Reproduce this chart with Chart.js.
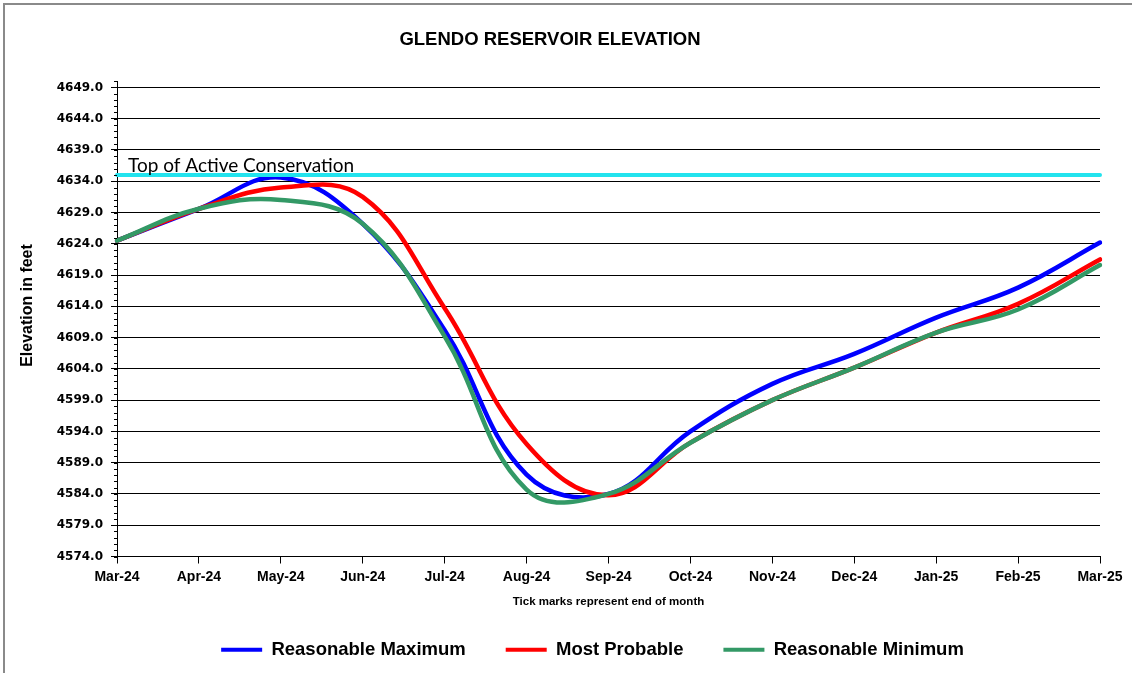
<!DOCTYPE html>
<html>
<head>
<meta charset="utf-8">
<script src="https://cdn.jsdelivr.net/npm/chart.js@4"></script>
<style>
  body { margin: 0; background: #fff; }
  #wrap { width: 1132px; height: 673px; }
</style>
</head>
<body>
<div id="wrap"><canvas id="chart" width="1132" height="673"></canvas></div>
<script>
// months (tick marks = end of month)
const months = ['Mar-24', 'Apr-24', 'May-24', 'Jun-24', 'Jul-24', 'Aug-24', 'Sep-24',
                'Oct-24', 'Nov-24', 'Dec-24', 'Jan-25', 'Feb-25', 'Mar-25'];

// elevations in feet
const reasonableMax = [4624.5, 4629.6, 4634.6, 4627.2, 4610.2, 4587.1, 4584.0, 4594.0, 4601.6, 4606.4, 4612.2, 4617.0, 4624.2];
const mostProbable  = [4624.5, 4629.6, 4633.0, 4631.5, 4613.7, 4592.0, 4583.8, 4592.2, 4599.0, 4604.2, 4609.8, 4614.4, 4621.5];
const reasonableMin = [4624.5, 4629.6, 4631.0, 4627.2, 4609.2, 4584.7, 4584.0, 4592.2, 4599.0, 4604.2, 4609.8, 4613.5, 4620.6];

const topOfConservation = 4635.0;
const conservationLabel = 'Top of Active Conservation';

const yTicks = [4574, 4579, 4584, 4589, 4594, 4599, 4604, 4609, 4614, 4619, 4624, 4629, 4634, 4639, 4644, 4649];
const yMin = 4574;
const yMax = 4650;

const boldArial = (size) => ({ family: '"Liberation Sans", Arial, sans-serif', size: size, weight: 'bold' });

// extra bits Excel draws: frame, minor y ticks, label over the cyan line
const extras = {
  id: 'extras',
  afterLayout(chart) {
    // legend sits a little left of the plot centre in the original
    chart.legend.left -= 16;
    chart.legend.right -= 16;
  },
  beforeDraw(chart) {
    const ctx = chart.ctx;
    ctx.save();
    ctx.fillStyle = '#fff';
    ctx.fillRect(0, 0, chart.width, chart.height);
    ctx.strokeStyle = '#8a8a8a';
    ctx.lineWidth = 2;
    ctx.beginPath();
    ctx.moveTo(3, 4); ctx.lineTo(chart.width, 4);
    ctx.moveTo(4, 3); ctx.lineTo(4, chart.height);
    ctx.stroke();
    ctx.restore();
  },
  afterDraw(chart) {
    const ctx = chart.ctx;
    const y = chart.scales.y;
    const left = chart.chartArea.left;
    ctx.save();
    ctx.strokeStyle = '#000';
    ctx.lineWidth = 1;
    ctx.beginPath();
    for (let v = yMin; v <= yMax; v++) {
      const py = Math.round(y.getPixelForValue(v)) + 0.5;
      ctx.moveTo(left - 3, py);
      ctx.lineTo(left, py);
    }
    ctx.stroke();
    ctx.restore();
  },
  afterDatasetsDraw(chart) {
    const ctx = chart.ctx;
    const py = chart.scales.y.getPixelForValue(topOfConservation);
    ctx.save();
    ctx.font = '19px Lato, "Open Sans", sans-serif';
    ctx.fillStyle = '#000';
    ctx.textBaseline = 'alphabetic';
    ctx.fillText(conservationLabel, chart.chartArea.left + 11, py - 3);
    ctx.restore();
  }
};

new Chart(document.getElementById('chart'), {
  type: 'line',
  data: {
    labels: months,
    datasets: [{
      label: 'Reasonable Maximum',
      data: reasonableMax,
      borderColor: '#0000FF',
      backgroundColor: '#0000FF',
      borderWidth: 4.5,
      order: 2
    }, {
      label: 'Most Probable',
      data: mostProbable,
      borderColor: '#FF0000',
      backgroundColor: '#FF0000',
      borderWidth: 4.5,
      order: 1
    }, {
      label: 'Reasonable Minimum',
      data: reasonableMin,
      borderColor: '#339966',
      backgroundColor: '#339966',
      borderWidth: 4.5,
      order: 0
    }, {
      label: conservationLabel,
      data: months.map(() => topOfConservation),
      borderColor: '#22E3EE',
      backgroundColor: '#22E3EE',
      borderWidth: 4,
      tension: 0,
      order: -1
    }]
  },
  options: {
    responsive: false,
    animation: false,
    layout: { padding: { left: 0, right: 32, top: 0, bottom: 4 } },
    elements: {
      point: { radius: 0, hoverRadius: 0 },
      line: { tension: 0.4, borderCapStyle: 'round' }
    },
    scales: {
      x: {
        type: 'category',
        offset: false,
        grid: { display: true, drawOnChartArea: false, drawTicks: true, tickLength: 7, tickColor: '#000' },
        border: { display: true, color: '#000', width: 1 },
        ticks: { color: '#000', font: boldArial(14), padding: 5, maxRotation: 0, autoSkip: false },
        title: {
          display: true,
          text: 'Tick marks represent end of month',
          color: '#000',
          font: boldArial(11.5),
          padding: { top: 0, bottom: -8 }
        },
        afterFit(scale) {
          scale.height = 44;
        }
      },
      y: {
        min: yMin,
        max: yMax,
        afterBuildTicks(scale) {
          scale.ticks = yTicks.map(v => ({ value: v }));
        },
        afterFit(scale) {
          scale.width = 117;
        },
        grid: { color: '#000', lineWidth: 1, tickLength: 6, tickColor: '#000' },
        border: { display: true, color: '#000', width: 1 },
        ticks: {
          color: '#000',
          font: { family: '"DejaVu Sans", sans-serif', size: 12, weight: 'bold' },
          padding: 8,
          callback: (v) => Number(v).toFixed(1)
        },
        title: {
          display: true,
          text: '      Elevation in feet',
          color: '#000',
          font: boldArial(16),
          padding: { top: 18, bottom: 0 }
        }
      }
    },
    plugins: {
      title: {
        display: true,
        text: 'GLENDO RESERVOIR ELEVATION',
        color: '#000',
        font: boldArial(18.5),
        padding: { top: 29, bottom: 30 }
      },
      legend: {
        position: 'bottom',
        fullSize: false,
        labels: {
          color: '#000',
          font: boldArial(18.5),
          boxWidth: 41,
          boxHeight: 4,
          padding: 40,
          filter: (item) => item.text !== conservationLabel,
          sort: (a, b) => a.datasetIndex - b.datasetIndex,
          generateLabels(chart) {
            return Chart.defaults.plugins.legend.labels.generateLabels(chart)
              .map(item => Object.assign(item, { lineWidth: 0 }));
          }
        }
      },
      tooltip: { enabled: false }
    }
  },
  plugins: [extras]
});
</script>
</body>
</html>
